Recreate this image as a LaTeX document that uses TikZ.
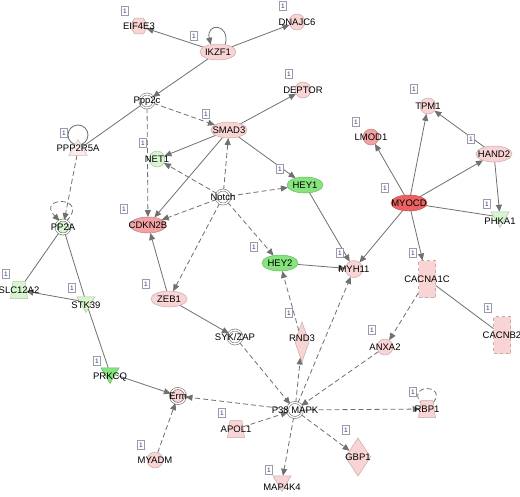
\documentclass[tikz,border=0pt]{standalone}
\usepackage{fontspec}
\setmainfont{Liberation Sans}
\usepackage{xcolor}
\usepackage{tikz}
\usetikzlibrary{positioning, shapes.geometric, arrows.meta, backgrounds, calc}

\definecolor{upl}{HTML}{F9D4D4}
\definecolor{upw}{HTML}{FDEBEB}
\definecolor{upm}{HTML}{F2A2A2}
\definecolor{upr}{HTML}{EC6262}
\definecolor{dnl}{HTML}{D8F5D0}
\definecolor{dng}{HTML}{86E47E}
\definecolor{edgegray}{HTML}{707070}
\definecolor{tagline}{HTML}{9A9AAA}
\definecolor{tagtext}{HTML}{303080}

\begin{document}
\begin{tikzpicture}[x=1pt, y=-1pt, >={Triangle[length=7pt,width=6pt]},
    lbl/.style={font=\fontsize{9.5}{10}\selectfont, inner sep=0pt},
    mol/.style={fill=#1, draw=#1!80!black, line width=0.5pt, inner sep=0pt, outer sep=0pt},
    gene/.style={mol=#1, circle, minimum size=16pt},
    oval/.style={mol=#1, ellipse, minimum width=36pt, minimum height=16pt},
    grp/.style={mol=#1, draw=#1!45!black, circle, double=white, double distance=1.4pt,
                line width=0.6pt, minimum size=14pt},
    tri/.style={mol=#1, regular polygon, regular polygon sides=3, minimum size=21pt},
    trid/.style={tri=#1, shape border rotate=180},
    dia/.style={mol=#1, diamond},
    trap/.style={mol=#1, trapezium, trapezium left angle=78, trapezium right angle=78,
                 trapezium stretches=true, text width=2pt, text height=2pt, text depth=0pt,
                 minimum width=17pt, minimum height=17pt},
    chan/.style={mol=#1, rectangle, dashed, minimum width=17pt, minimum height=37pt},
    hexa/.style={mol=#1, regular polygon, regular polygon sides=6, minimum size=18pt},
    tagbox/.style={draw=tagline, fill=white, line width=0.4pt, inner sep=0pt,
                   minimum width=7pt, minimum height=9pt, text=tagtext,
                   font=\fontsize{6.5}{7}\selectfont},
    link/.style={draw=edgegray, line width=0.8pt},
    dlink/.style={link, dash pattern=on 5pt off 3pt}]
  \useasboundingbox (0,0) rectangle (520,496);

  % molecules
  \node[hexa=upl, label={[lbl]center:EIF4E3}] (eif) at (139,26) {};
  \node[oval=upl, label={[lbl]center:IKZF1}] (ikzf) at (218,52) {};
  \node[gene=upl, label={[lbl]center:DNAJC6}] (dnajc) at (297,22) {};
  \node[grp=white, label={[lbl]center:Ppp2c}] (ppp2c) at (147,101) {};
  \node[gene=upl, label={[lbl]center:DEPTOR}] (deptor) at (303,90) {};
  \node[oval=upl, label={[lbl]center:SMAD3}] (smad) at (229,130) {};
  \node[tri=upw, label={[lbl, yshift=2pt]center:PPP2R5A}] (pppr) at (78,150) {};
  \node[gene=dnl, label={[lbl]center:NET1}] (net) at (157,159) {};
  \node[gene=upl, label={[lbl]center:TPM1}] (tpm) at (428,106) {};
  \node[gene=upm, label={[lbl]center:LMOD1}] (lmod) at (371,137) {};
  \node[oval=upl, label={[lbl]center:HAND2}] (hand) at (494,154) {};
  \node[oval=dng, label={[lbl]center:HEY1}] (hey1) at (305,185) {};
  \node[grp=white, label={[lbl]center:Notch}] (notch) at (223,197) {};
  \node[oval=upr, label={[lbl]center:MYOCD}] (myocd) at (409,203) {};
  \node[trid=dnl, label={[lbl, yshift=-4pt]center:PHKA1}] (phka) at (500,217) {};
  \node[oval=upm, label={[lbl]center:CDKN2B}] (cdkn) at (148,225) {};
  \node[grp=dnl, label={[lbl]center:PP2A}] (pp2a) at (63,227) {};
  \node[oval=dng, label={[lbl]center:HEY2}] (hey2) at (280,263) {};
  \node[gene=upl, minimum size=17pt, label={[lbl]center:MYH11}] (myh) at (354,269) {};
  \node[chan=upl, label={[lbl]center:CACNA1C}] (cacna) at (427,279) {};
  \node[trap=dnl, label={[lbl]center:SLC12A2}] (slc) at (19,290) {};
  \node[trid=dnl, label={[lbl, yshift=-3pt]center:STK39}] (stk) at (86,302) {};
  \node[oval=upl, label={[lbl]center:ZEB1}] (zeb) at (169,299) {};
  \node[chan=upl, label={[lbl]center:CACNB2}] (cacnb) at (502,335) {};
  \node[grp=white, label={[lbl]center:SYK/ZAP}] (syk) at (235,337) {};
  \node[dia=upl, minimum width=14pt, minimum height=40pt,
        label={[lbl, yshift=4pt]center:RND3}] (rnd) at (302,342) {};
  \node[gene=upl, label={[lbl]center:ANXA2}] (anxa) at (385,347) {};
  \node[trid=dng, label={[lbl, yshift=-4pt]center:PRKCQ}] (prkcq) at (110,373) {};
  \node[grp=upl, minimum size=15pt, label={[lbl]center:Erm}] (erm) at (178,396) {};
  \node[grp=white, minimum size=15pt, label={[lbl]center:P38 MAPK}] (p38) at (295,410) {};
  \node[trap=upl, label={[lbl]center:RBP1}] (rbp) at (427,409) {};
  \node[trap=upl, label={[lbl]center:APOL1}] (apol) at (236,429) {};
  \node[dia=upl, minimum width=25pt, minimum height=38pt,
        label={[lbl]center:GBP1}] (gbp) at (358,457) {};
  \node[gene=upl, label={[lbl]center:MYADM}] (myadm) at (155,460) {};
  \node[trid=upl, label={[lbl, yshift=-6pt]center:MAP4K4}] (mapk) at (282,481) {};

  % count tags
  \foreach \tx/\ty [count=\i] in {125/11, 194/36, 283/6, 289/74, 206/114, 64/133,
      143/143, 414/89, 356/122, 471/139, 280/169, 385/188, 487/204, 124/209, 6/274,
      72/288, 146/284, 340/253, 413/253, 254/247, 289/313, 372/330, 488/308, 97/361,
      222/413, 413/392, 346/430, 141/445, 269/470}
    \node[tagbox] (tag\i) at (\tx,\ty) {1};

  \begin{scope}[on background layer]
    \fill[white] (0,0) rectangle (520,496);
    % direct links
    \draw[link, ->] (ikzf) -- (eif);
    \draw[link, ->] (ikzf) -- (dnajc);
    \draw[link, ->] (ikzf) -- (ppp2c);
    \draw[link, ->] (ikzf.45) .. controls +(5,-22) and +(-5,-22) .. (ikzf.135);
    \draw[link] (ppp2c) -- (pppr);
    \draw[link] ($(pppr)+(0,-15)$) circle[radius=10];
    \draw[link, ->] (smad) -- (deptor);
    \draw[link, ->] (smad) -- (net);
    \draw[link, ->] (smad) -- (cdkn);
    \draw[link, ->] (smad) -- (hey1);
    \draw[link, ->] (hey1) -- (myh);
    \draw[link, ->] (hey2) -- (myh);
    \draw[link, ->] (myocd) -- (myh);
    \draw[link, ->] (myocd) -- (lmod);
    \draw[link, ->] (myocd) -- (tpm);
    \draw[link, ->] (myocd) -- (hand);
    \draw[link] (myocd) -- (phka);
    \draw[link, ->] (hand) -- (tpm);
    \draw[link, ->] (hand) -- (phka);
    \draw[link, ->] (myocd) -- (cacna);
    \draw[link] (cacna) -- (cacnb);
    \draw[link] (pp2a) -- (slc);
    \draw[link] (pp2a) -- (stk);
    \draw[link, ->] (stk) -- (slc);
    \draw[link] (stk) -- (prkcq);
    \draw[link, ->] (zeb) -- (cdkn);
    \draw[link, ->] (zeb) -- (syk);
    \draw[link, ->] (prkcq) -- (erm);
    % indirect links
    \draw[dlink, ->] (ppp2c) -- (smad);
    \draw[dlink, ->] (ppp2c) -- (cdkn);
    \draw[dlink, ->] (notch) -- (smad);
    \draw[dlink, ->] (notch) -- (net);
    \draw[dlink, ->] (notch) -- (hey1);
    \draw[dlink, ->] (notch) -- (cdkn);
    \draw[dlink, ->] (notch) -- (zeb);
    \draw[dlink, ->] (notch) -- (hey2);
    \draw[dlink, ->] (pppr) -- (pp2a);
    \draw[dlink, ->] (pp2a.60) .. controls +(24,-25) and +(-24,-25) .. (pp2a.120);
    \draw[dlink, ->] (syk) -- (p38);
    \draw[dlink, ->] (rnd) -- (hey2);
    \draw[dlink, ->] (p38) -- (rnd);
    \draw[dlink, ->] (p38) -- (myh);
    \draw[dlink, ->] (cacna) -- (anxa);
    \draw[dlink, ->] (anxa) -- (p38);
    \draw[dlink, ->] (p38) -- (rbp);
    \draw[dlink] (rbp.north east) .. controls +(14,-19) and +(-14,-19) .. (rbp.north west);
    \draw[dlink, ->] (p38) -- (gbp);
    \draw[dlink, ->] (p38) -- (mapk);
    \draw[dlink, ->] (p38) -- (erm);
    \draw[dlink, ->] (apol) -- (p38);
    \draw[dlink, ->] (myadm) -- (erm);
  \end{scope}
\end{tikzpicture}
\end{document}
